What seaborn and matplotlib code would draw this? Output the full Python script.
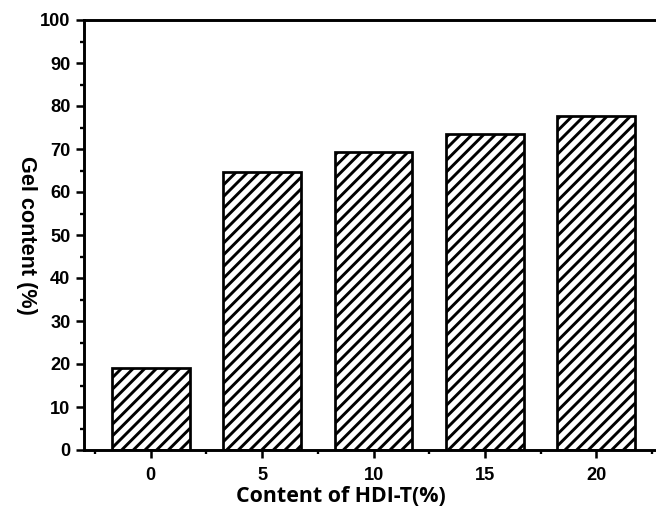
import matplotlib
matplotlib.use("Agg")
import matplotlib.pyplot as plt
from matplotlib import font_manager as fm
from matplotlib.ticker import MultipleLocator, FixedLocator
import seaborn as sns
import pandas as pd

# HDI-T loading (%) and measured gel content (%)
hdi_content = ["0", "5", "10", "15", "20"]
gel_content = [19.0, 64.7, 69.2, 73.6, 77.6]


def bold_sans(size):
    """Regular-width Liberation Sans Bold, avoiding the Narrow variant."""
    for f in fm.fontManager.ttflist:
        if (f.name == "Liberation Sans" and "narrow" not in f.fname.lower()
                and f.weight in ("bold", 700) and f.style == "normal"):
            return fm.FontProperties(fname=f.fname, size=size)
    return fm.FontProperties(family="DejaVu Sans", weight="bold", size=size)


sns.set_style("ticks")
plt.rcParams["font.family"] = ["Liberation Sans", "DejaVu Sans"]
plt.rcParams["text.color"] = "black"
plt.rcParams["axes.labelcolor"] = "black"
plt.rcParams["xtick.color"] = "black"
plt.rcParams["ytick.color"] = "black"
plt.rcParams["hatch.linewidth"] = 3.0
plt.rcParams["hatch.color"] = "black"

DPI = 70
fig = plt.figure(figsize=(656 / DPI, 509 / DPI), dpi=DPI)
ax = fig.add_axes([84 / 656, 59 / 509, 579 / 656, 430 / 509])

df = pd.DataFrame({"hdi": hdi_content, "gel": gel_content})
sns.barplot(data=df, x="hdi", y="gel", ax=ax, width=0.7, color="white",
            edgecolor="black", linewidth=2.8, errorbar=None)
for p in ax.patches:
    p.set_hatch("//")
    p.set_facecolor("white")

ax.set_xlim(-0.6, 4.6)
ax.set_ylim(0, 100)
ax.yaxis.set_major_locator(MultipleLocator(10))
ax.yaxis.set_minor_locator(MultipleLocator(5))
ax.xaxis.set_minor_locator(FixedLocator([-0.5, 0.5, 1.5, 2.5, 3.5, 4.5]))

for side in ["left", "bottom", "top"]:
    ax.spines[side].set_linewidth(3.0)
    ax.spines[side].set_color("black")
ax.spines["right"].set_visible(False)

ax.tick_params(axis="both", which="major", length=8, width=2.6,
               direction="out", labelcolor="black")
ax.tick_params(axis="both", which="minor", length=4.5, width=2.4,
               direction="out")
ax.tick_params(axis="y", pad=6)
ax.tick_params(axis="x", pad=9)
tick_font = bold_sans(18.8)
for lbl in ax.get_xticklabels() + ax.get_yticklabels():
    lbl.set_fontproperties(tick_font)

ax.set_ylabel("Gel content (%)", fontproperties=bold_sans(22.2), rotation=270,
              va="center", ha="center")
ax.yaxis.set_label_coords(-(84 - 26) / 579, 0.5)
ax.set_xlabel("Content of HDI-T(%)", fontsize=22, fontweight="bold",
              family=["Open Sans", "DejaVu Sans"], va="center")
ax.xaxis.set_label_coords((341 - 84) / 579, -(496 - 450) / 430)

fig.savefig("out.png", dpi=DPI, facecolor="white")
